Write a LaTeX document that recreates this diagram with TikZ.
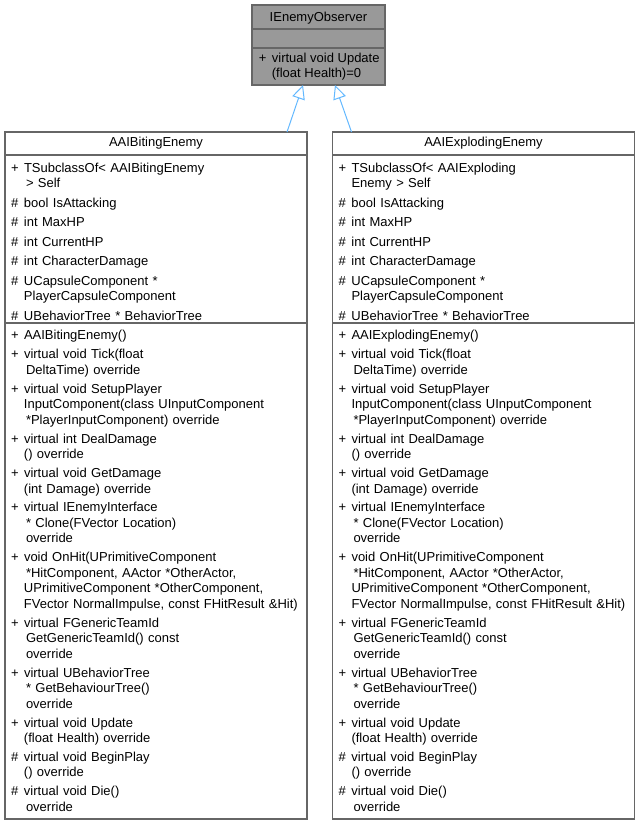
\documentclass[tikz,border=0pt]{standalone}
\usepackage{fontspec}
\setmainfont{Liberation Sans}
\usetikzlibrary{positioning,arrows.meta}
\definecolor{edgegray}{HTML}{666666}
\definecolor{basegray}{HTML}{999999}
\definecolor{inheritblue}{HTML}{63B8FF}
\newcommand{\mem}[1]{\makebox[13pt][l]{#1}}
\newcommand{\cont}{\hspace*{13pt}}
\newcommand{\contx}{\hspace*{15pt}}
\begin{document}
\begin{tikzpicture}[x=1pt, y=-1pt,
    every node/.style={font=\fontsize{13}{15.5}\selectfont},
    cls/.style={draw=edgegray, line width=1.2pt, fill=white, rectangle, inner sep=0pt, outer sep=0pt},
    base/.style={cls, fill=basegray, minimum width=133pt},
    title/.style={cls, minimum width=302pt, minimum height=23pt, align=center},
    wide/.style={cls, minimum width=302pt, text width=290pt, align=left},
    inherit/.style={draw=inheritblue, line width=1pt, -{Triangle[open, length=14pt, width=13pt]}}]
    \useasboundingbox (0,0) rectangle (640,824);
    % interface
    \node (obs) [base, minimum height=24pt] at (318.5, 17) {\rule{0pt}{12pt}IEnemyObserver};
    \node (obsAttr) [base, minimum height=19pt, below=0pt of obs] {};
    \node (obsMeth) [base, minimum height=37pt, align=left, below=0pt of obsAttr]
        {\hspace*{1.5pt}\mem{+}virtual void Update\\\hspace*{1.5pt}\cont(float Health)=0};
    % biting enemy
    \node (biting) [title] at (156, 143.5) {AAIBitingEnemy};
    \node (bitingAttr) [wide, minimum height=168pt, below=0pt of biting]
        {\rule{0pt}{15pt}\mem{+}TSubclassOf< AAIBitingEnemy\\\contx > Self\\[4pt]
         \mem{\#}bool IsAttacking\\[4pt]
         \mem{\#}int MaxHP\\[4pt]
         \mem{\#}int CurrentHP\\[4pt]
         \mem{\#}int CharacterDamage\\[4pt]
         \mem{\#}UCapsuleComponent *\\\cont PlayerCapsuleComponent\\[4pt]
         \mem{\#}UBehaviorTree * BehaviorTree};
    \node (bitingMeth) [wide, minimum height=496pt, below=0pt of bitingAttr]
        {\mem{+}AAIBitingEnemy()\\[3.4pt]
         \mem{+}virtual void Tick(float\\\contx DeltaTime) override\\[3.4pt]
         \mem{+}virtual void SetupPlayer\\\cont InputComponent(class UInputComponent\\\contx *PlayerInputComponent) override\\[3.4pt]
         \mem{+}virtual int DealDamage\\\cont () override\\[3.4pt]
         \mem{+}virtual void GetDamage\\\cont (int Damage) override\\[3.4pt]
         \mem{+}virtual IEnemyInterface\\\contx * Clone(FVector Location)\\\contx override\\[3.4pt]
         \mem{+}void OnHit(UPrimitiveComponent\\\contx *HitComponent, AActor *OtherActor,\\\cont UPrimitiveComponent *OtherComponent,\\\cont FVector NormalImpulse, const FHitResult \&Hit)\\[3.4pt]
         \mem{+}virtual FGenericTeamId\\\contx GetGenericTeamId() const\\\contx override\\[3.4pt]
         \mem{+}virtual UBehaviorTree\\\contx * GetBehaviourTree()\\\contx override\\[3.4pt]
         \mem{+}virtual void Update\\\cont (float Health) override\\[3.4pt]
         \mem{\#}virtual void BeginPlay\\\cont () override\\[3.4pt]
         \mem{\#}virtual void Die()\\\contx override};
    % exploding enemy
    \node (exploding) [title] at (483.5, 143.5) {AAIExplodingEnemy};
    \node (explodingAttr) [wide, minimum height=168pt, below=0pt of exploding]
        {\rule{0pt}{15pt}\mem{+}TSubclassOf< AAIExploding\\\cont Enemy > Self\\[4pt]
         \mem{\#}bool IsAttacking\\[4pt]
         \mem{\#}int MaxHP\\[4pt]
         \mem{\#}int CurrentHP\\[4pt]
         \mem{\#}int CharacterDamage\\[4pt]
         \mem{\#}UCapsuleComponent *\\\cont PlayerCapsuleComponent\\[4pt]
         \mem{\#}UBehaviorTree * BehaviorTree};
    \node (explodingMeth) [wide, minimum height=496pt, below=0pt of explodingAttr]
        {\mem{+}AAIExplodingEnemy()\\[3.4pt]
         \mem{+}virtual void Tick(float\\\contx DeltaTime) override\\[3.4pt]
         \mem{+}virtual void SetupPlayer\\\cont InputComponent(class UInputComponent\\\contx *PlayerInputComponent) override\\[3.4pt]
         \mem{+}virtual int DealDamage\\\cont () override\\[3.4pt]
         \mem{+}virtual void GetDamage\\\cont (int Damage) override\\[3.4pt]
         \mem{+}virtual IEnemyInterface\\\contx * Clone(FVector Location)\\\contx override\\[3.4pt]
         \mem{+}void OnHit(UPrimitiveComponent\\\contx *HitComponent, AActor *OtherActor,\\\cont UPrimitiveComponent *OtherComponent,\\\cont FVector NormalImpulse, const FHitResult \&Hit)\\[3.4pt]
         \mem{+}virtual FGenericTeamId\\\contx GetGenericTeamId() const\\\contx override\\[3.4pt]
         \mem{+}virtual UBehaviorTree\\\contx * GetBehaviourTree()\\\contx override\\[3.4pt]
         \mem{+}virtual void Update\\\cont (float Health) override\\[3.4pt]
         \mem{\#}virtual void BeginPlay\\\cont () override\\[3.4pt]
         \mem{\#}virtual void Die()\\\contx override};
    % inheritance
    \draw[inherit] ([xshift=131pt]biting.north) -- ([xshift=-15.5pt]obsMeth.south);
    \draw[inherit] ([xshift=-132pt]exploding.north) -- ([xshift=16.5pt]obsMeth.south);
\end{tikzpicture}
\end{document}
